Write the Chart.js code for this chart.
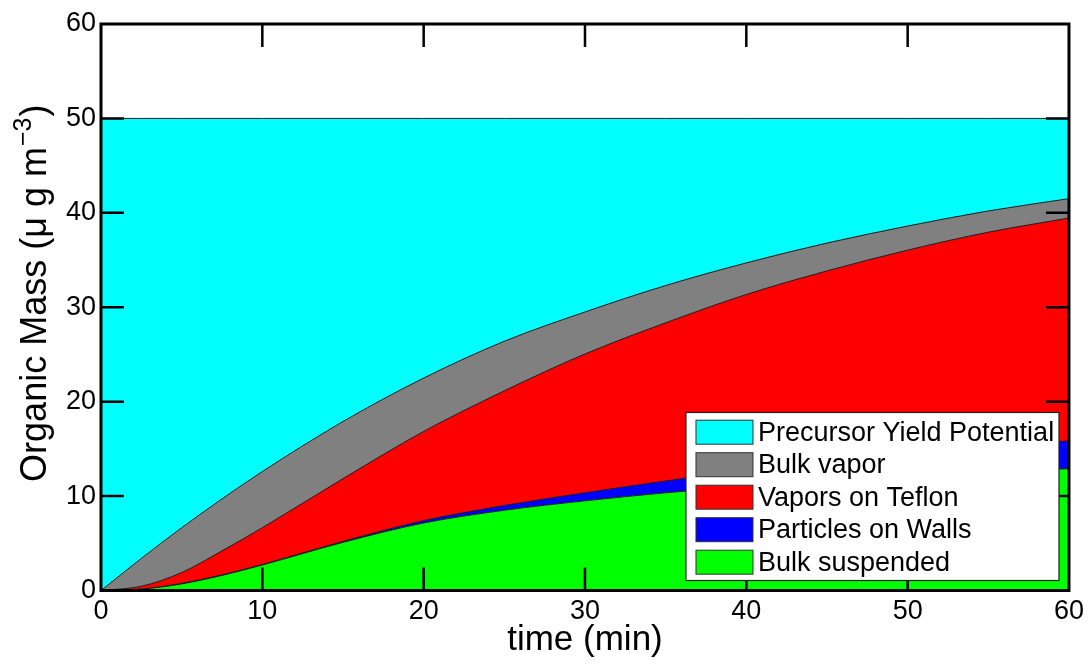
<!DOCTYPE html>
<html><head><meta charset="utf-8">
<script src="https://cdn.jsdelivr.net/npm/chart.js@4.4.1/dist/chart.umd.min.js"></script>
<style>html,body{margin:0;padding:0;background:#fff;} #wrap{position:relative;width:1089px;height:664px;}</style>
</head><body><div id="wrap"><canvas id="c" width="1089" height="664"></canvas></div>
<script>
// ---- data ----
const timeMin = [0, 2.5, 5, 7.5, 10, 15, 20, 25, 30, 35, 40, 45, 50, 55, 60];
const bulkSuspended     = [0, 0.15, 0.7, 1.6, 2.7, 5.1, 7.15, 8.5, 9.5, 10.35, 11.05, 11.7, 12.2, 12.6, 12.9];
const particlesOnWalls  = [0, 0, 0.05, 0.05, 0.05, 0.1, 0.25, 0.5, 0.85, 1.25, 1.7, 2.05, 2.4, 2.7, 2.95];
const vaporsOnTeflon    = [0, 0.3, 1.15, 2.55, 3.9, 6.65, 9.45, 12.15, 14.7, 16.75, 18.6, 20.1, 21.45, 22.65, 23.6];
const bulkVapor         = [0, 2.95, 4.75, 5.5, 5.95, 6.05, 5.65, 5.25, 4.45, 3.95, 3.35, 2.95, 2.55, 2.25, 2.05];
const precursorYield    = [50, 46.6, 43.35, 40.3, 37.4, 32.1, 27.5, 23.6, 20.5, 17.7, 15.3, 13.2, 11.4, 9.8, 8.5];
const xTickValues = [0, 10, 20, 30, 40, 50, 60];
const yTickValues = [0, 10, 20, 30, 40, 50, 60];
const seriesNames = ['Bulk suspended', 'Particles on Walls', 'Vapors on Teflon', 'Bulk vapor', 'Precursor Yield Potential'];
const seriesColors = ['#00ff00', '#0000ff', '#ff0000', '#808080', '#00ffff'];
const seriesValues = [bulkSuspended, particlesOnWalls, vaporsOnTeflon, bulkVapor, precursorYield];
const xTitle = 'time (min)';
const yTitleMain = 'Organic Mass (\u03bc g m';
const yTitleSup = '\u22123';
const yTitleEnd = ')';

const FONT = '"Liberation Sans", Arial, Helvetica, sans-serif';

const datasets = seriesValues.map((vals, i) => ({
  label: seriesNames[i],
  data: vals.map((v, k) => ({x: timeMin[k], y: v})),
  backgroundColor: seriesColors[i],
  borderColor: '#1a1a1a',
  borderWidth: 1,
  pointRadius: 0,
  cubicInterpolationMode: 'monotone',
  fill: i === 0 ? 'origin' : '-1'
}));

const frameTicks = {
  id: 'frameTicks',
  afterDatasetsDraw(chart) {
    const {ctx, chartArea: a, scales: {x, y}} = chart;
    const L = 23;
    ctx.save();
    ctx.strokeStyle = '#000';
    ctx.lineWidth = 2.5;
    ctx.beginPath();
    xTickValues.forEach(v => {
      if (v <= x.min || v >= x.max) return;
      const px = x.getPixelForValue(v);
      ctx.moveTo(px, a.bottom); ctx.lineTo(px, a.bottom - L);
      ctx.moveTo(px, a.top); ctx.lineTo(px, a.top + L);
    });
    yTickValues.forEach(v => {
      if (v <= y.min || v >= y.max) return;
      const py = y.getPixelForValue(v);
      ctx.moveTo(a.left, py); ctx.lineTo(a.left + L, py);
      ctx.moveTo(a.right, py); ctx.lineTo(a.right - L, py);
    });
    ctx.stroke();
    ctx.lineWidth = 3;
    ctx.strokeRect(a.left, a.top, a.right - a.left, a.bottom - a.top);
    ctx.restore();
  }
};

const yTitlePlugin = {
  id: 'yTitlePlugin',
  afterDraw(chart) {
    const {ctx, chartArea: a} = chart;
    ctx.save();
    const big = '36px ' + FONT, small = '25px ' + FONT;
    ctx.font = big;
    const w1 = ctx.measureText(yTitleMain).width;
    const w3 = ctx.measureText(yTitleEnd).width;
    ctx.font = small;
    const w2 = ctx.measureText(yTitleSup).width;
    const total = w1 + w2 + w3 + 2;
    const cy = (a.top + a.bottom) / 2 - 14;
    ctx.translate(46, cy);
    ctx.rotate(-Math.PI / 2);
    ctx.fillStyle = '#000';
    ctx.textBaseline = 'alphabetic';
    ctx.textAlign = 'left';
    let xx = -total / 2;
    ctx.font = big; ctx.fillText(yTitleMain, xx, 0); xx += w1 + 1;
    ctx.font = small; ctx.fillText(yTitleSup, xx, -15); xx += w2 + 1;
    ctx.font = big; ctx.fillText(yTitleEnd, xx, 0);
    ctx.restore();
  }
};

const boxLegend = {
  id: 'boxLegend',
  afterDraw(chart) {
    const {ctx, chartArea: a} = chart;
    const right = a.right - 10, bottom = a.bottom - 10;
    const w = 373, h = 168;
    const left = right - w, top = bottom - h;
    ctx.save();
    ctx.fillStyle = '#fff';
    ctx.fillRect(left, top, w, h);
    ctx.strokeStyle = '#222';
    ctx.lineWidth = 1.2;
    ctx.strokeRect(left, top, w, h);
    ctx.font = '27px ' + FONT;
    ctx.textBaseline = 'middle';
    ctx.textAlign = 'left';
    const order = [4, 3, 2, 1, 0];
    order.forEach((di, r) => {
      const ds = chart.data.datasets[di];
      const cy = top + 19.7 + r * 32.5;
      ctx.fillStyle = ds.backgroundColor;
      ctx.fillRect(left + 10, cy - 12, 57, 24);
      ctx.strokeStyle = '#333';
      ctx.lineWidth = 1;
      ctx.strokeRect(left + 10, cy - 12, 57, 24);
      ctx.fillStyle = '#000';
      ctx.fillText(ds.label, left + 72, cy + 1);
    });
    ctx.restore();
  }
};

new Chart(document.getElementById('c'), {
  type: 'line',
  data: {datasets},
  options: {
    responsive: false,
    devicePixelRatio: 1,
    animation: false,
    layout: {padding: {top: 24, right: 19, left: 0, bottom: 0}},
    plugins: {legend: {display: false}, tooltip: {enabled: false}},
    scales: {
      x: {
        type: 'linear', min: 0, max: 60,
        grid: {display: false, drawTicks: false},
        border: {display: false},
        ticks: {stepSize: 10, color: '#000', padding: 5, font: {family: FONT, size: 27}},
        title: {display: true, text: xTitle, color: '#000', padding: {top: 0, bottom: 3}, font: {family: FONT, size: 35}},
        afterFit(s) { s.height = 73.5; }
      },
      y: {
        stacked: true, min: 0, max: 60,
        grid: {display: false, drawTicks: false},
        border: {display: false},
        ticks: {stepSize: 10, color: '#000', padding: 5, font: {family: FONT, size: 27}},
        title: {display: false},
        afterFit(s) { s.width = 101; }
      }
    }
  },
  plugins: [frameTicks, yTitlePlugin, boxLegend]
});
</script>
</body></html>
